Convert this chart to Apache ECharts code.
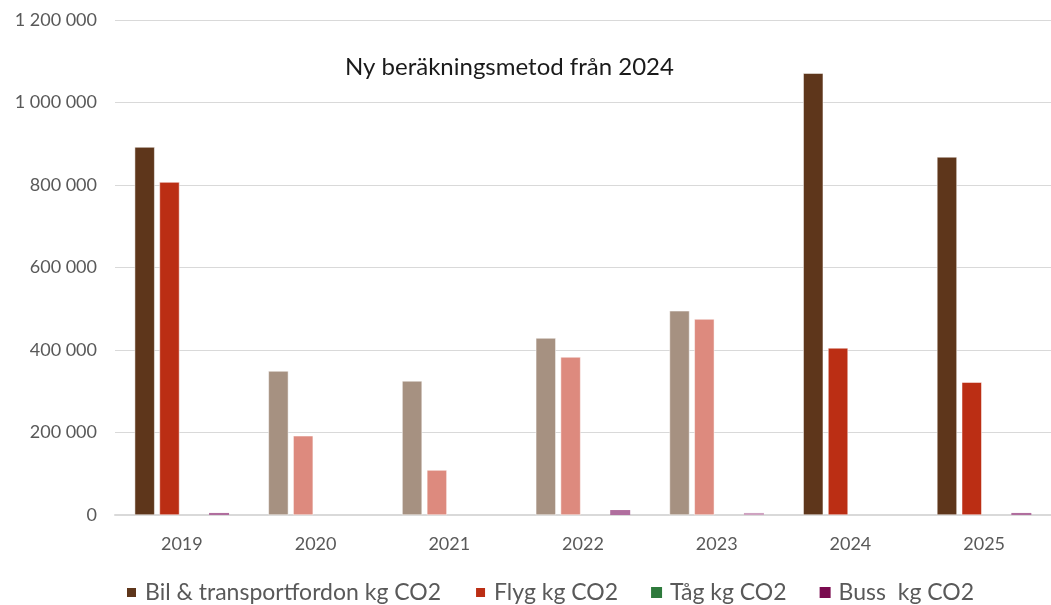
<!DOCTYPE html>
<html>
<head>
<meta charset="utf-8">
<script src="https://cdn.jsdelivr.net/npm/echarts@6/dist/echarts.min.js"></script>
<style>
  html, body { margin: 0; padding: 0; background: #fff; }
  #chart { width: 1051px; height: 605px; }
</style>
</head>
<body>
<div id="chart"></div>
<script>
// data
const years = ['2019', '2020', '2021', '2022', '2023', '2024', '2025']
const bil = [892000, 349000, 325000, 429000, 495000, 1071000, 868000]
const flyg = [807000, 192000, 109000, 383000, 475000, 405000, 322000]
const tag = [0, 0, 0, 0, 0, 0, 0]
const buss = [5000, 0, 0, 12000, 5000, 0, 5000]
const yTicks = [0, 200000, 400000, 600000, 800000, 1000000, 1200000]

// 2020-2023 are drawn faded (old method)
const faded = [false, true, true, true, true, false, false]

const font = 'Lato, "Open Sans", sans-serif'

function colored(values, strong, light) {
    return values.map((v, i) => ({
        value: v,
        itemStyle: { color: faded[i] ? light : strong }
    }))
}

function fmt(v) {
    return String(v).replace(/\B(?=(\d{3})+(?!\d))/g, ' ')
}

let mycharts = echarts.init(document.getElementById('chart'))
mycharts.setOption({
    animation: false,
    textStyle: { fontFamily: font },
    title: {
        text: 'Ny beräkningsmetod från 2024',
        left: 340,
        top: 50,
        textStyle: { fontSize: 24, fontWeight: 'normal', color: '#1a1a1a', fontFamily: font }
    },
    legend: {
        top: 576,
        left: 120,
        itemWidth: 11,
        itemHeight: 11,
        itemGap: 33,
        icon: 'rect',
        textStyle: { fontSize: 23, color: '#595959', fontFamily: font, padding: [0, 0, 0, 3] },
        data: ['Bil & transportfordon kg CO2', 'Flyg kg CO2', 'Tåg kg CO2', 'Buss  kg CO2']
    },
    grid: { left: 115, right: 0, top: 20, bottom: 90 },
    xAxis: {
        type: 'category',
        data: years,
        axisLine: { lineStyle: { color: '#d9d9d9', width: 2 } },
        axisTick: { show: false },
        axisLabel: { fontSize: 18, color: '#595959', margin: 20 }
    },
    yAxis: {
        type: 'value',
        min: 0,
        max: 1200000,
        interval: 200000,
        axisLine: { show: false },
        axisTick: { show: false },
        splitLine: { lineStyle: { color: '#d9d9d9' } },
        axisLabel: {
            fontSize: 18,
            color: '#595959',
            margin: 18,
            formatter: v => yTicks.includes(v) ? fmt(v) : ''
        }
    },
    series: [
        {
            name: 'Bil & transportfordon kg CO2',
            type: 'bar',
            barWidth: 20,
            barGap: '24%',
            itemStyle: { color: '#5e361b', borderColor: '#fff', borderWidth: 0.5 },
            data: colored(bil, '#5e361b', '#a69181')
        },
        {
            name: 'Flyg kg CO2',
            type: 'bar',
            barWidth: 20,
            itemStyle: { color: '#bb2e14', borderColor: '#fff', borderWidth: 0.5 },
            data: colored(flyg, '#bb2e14', '#dd8a7e')
        },
        {
            name: 'Tåg kg CO2',
            type: 'bar',
            barWidth: 20,
            itemStyle: { color: '#2e7a3c' },
            data: tag
        },
        {
            name: 'Buss  kg CO2',
            type: 'bar',
            barWidth: 20,
            itemStyle: { color: '#7a0b4f' },
            data: buss.map((v, i) => ({
                value: v,
                itemStyle: { color: faded[i] && i === 4 ? '#cfa3c1' : '#b06e9e' }
            }))
        }
    ]
})
</script>
</body>
</html>
